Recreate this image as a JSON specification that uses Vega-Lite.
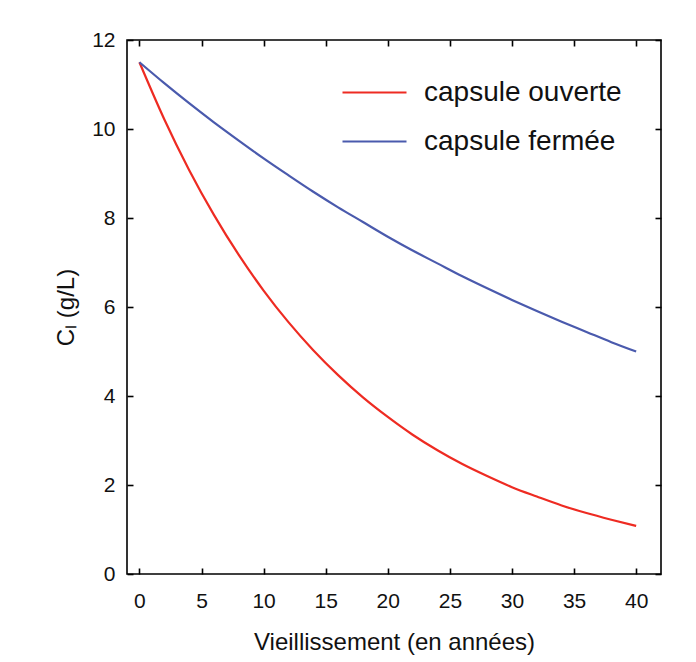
{
  "$schema": "https://vega.github.io/schema/vega-lite/v6.json",
  "width": 534,
  "height": 534,
  "autosize": {"type": "none"},
  "padding": {"left": 127, "top": 40, "right": 35, "bottom": 88},
  "background": "#ffffff",
  "config": {
    "font": "Liberation Sans",
    "view": {"stroke": "#000000", "strokeWidth": 1.6},
    "axis": {"domain": false, "grid": false, "tickColor": "#000000", "tickWidth": 1.6, "tickSize": -6, "labelColor": "#111111", "titleColor": "#111111", "labelFont": "Liberation Sans", "titleFont": "Liberation Sans", "titleFontWeight": "normal"}
  },
  "data": {"values": [
    {"t": 0, "c": 11.5, "s": "capsule ouverte"},
    {"t": 2, "c": 10.22, "s": "capsule ouverte"},
    {"t": 4, "c": 9.08, "s": "capsule ouverte"},
    {"t": 6, "c": 8.07, "s": "capsule ouverte"},
    {"t": 8, "c": 7.17, "s": "capsule ouverte"},
    {"t": 10, "c": 6.37, "s": "capsule ouverte"},
    {"t": 12, "c": 5.66, "s": "capsule ouverte"},
    {"t": 14, "c": 5.03, "s": "capsule ouverte"},
    {"t": 16, "c": 4.47, "s": "capsule ouverte"},
    {"t": 18, "c": 3.97, "s": "capsule ouverte"},
    {"t": 20, "c": 3.53, "s": "capsule ouverte"},
    {"t": 22, "c": 3.13, "s": "capsule ouverte"},
    {"t": 24, "c": 2.78, "s": "capsule ouverte"},
    {"t": 26, "c": 2.47, "s": "capsule ouverte"},
    {"t": 28, "c": 2.2, "s": "capsule ouverte"},
    {"t": 30, "c": 1.95, "s": "capsule ouverte"},
    {"t": 32, "c": 1.74, "s": "capsule ouverte"},
    {"t": 34, "c": 1.54, "s": "capsule ouverte"},
    {"t": 36, "c": 1.37, "s": "capsule ouverte"},
    {"t": 38, "c": 1.22, "s": "capsule ouverte"},
    {"t": 40, "c": 1.08, "s": "capsule ouverte"},
    {"t": 0, "c": 11.5, "s": "capsule fermée"},
    {"t": 2, "c": 11.03, "s": "capsule fermée"},
    {"t": 4, "c": 10.58, "s": "capsule fermée"},
    {"t": 6, "c": 10.15, "s": "capsule fermée"},
    {"t": 8, "c": 9.74, "s": "capsule fermée"},
    {"t": 10, "c": 9.34, "s": "capsule fermée"},
    {"t": 12, "c": 8.96, "s": "capsule fermée"},
    {"t": 14, "c": 8.59, "s": "capsule fermée"},
    {"t": 16, "c": 8.24, "s": "capsule fermée"},
    {"t": 18, "c": 7.91, "s": "capsule fermée"},
    {"t": 20, "c": 7.58, "s": "capsule fermée"},
    {"t": 22, "c": 7.27, "s": "capsule fermée"},
    {"t": 24, "c": 6.98, "s": "capsule fermée"},
    {"t": 26, "c": 6.69, "s": "capsule fermée"},
    {"t": 28, "c": 6.42, "s": "capsule fermée"},
    {"t": 30, "c": 6.16, "s": "capsule fermée"},
    {"t": 32, "c": 5.91, "s": "capsule fermée"},
    {"t": 34, "c": 5.67, "s": "capsule fermée"},
    {"t": 36, "c": 5.44, "s": "capsule fermée"},
    {"t": 38, "c": 5.21, "s": "capsule fermée"},
    {"t": 40, "c": 5.0, "s": "capsule fermée"}
  ]},
  "layer": [
    {
      "mark": {"type": "line", "strokeWidth": 2.2, "interpolate": "monotone"},
      "encoding": {
        "x": {"field": "t", "type": "quantitative", "scale": {"domain": [-1, 42], "nice": false},
              "axis": {"orient": "bottom", "values": [0, 5, 10, 15, 20, 25, 30, 35, 40], "labelFontSize": 21, "labelPadding": 22, "title": "Vieillissement (en années)", "titleFontSize": 24, "titlePadding": 19}},
        "y": {"field": "c", "type": "quantitative", "scale": {"domain": [0, 12], "nice": false},
              "axis": {"orient": "left", "values": [0, 2, 4, 6, 8, 10, 12], "labelFontSize": 21, "labelPadding": 18, "title": "Cₗ (g/L)", "titleFontSize": 24, "titlePadding": 13}},
        "color": {"field": "s", "type": "nominal",
                  "scale": {"domain": ["capsule ouverte", "capsule fermée"], "range": ["#ee2b22", "#4a5aad"]},
                  "legend": {"orient": "none", "legendX": 214, "legendY": 19, "title": null, "symbolType": "stroke", "symbolSize": 4096, "symbolStrokeWidth": 2.2, "labelFontSize": 28, "labelLimit": 400, "labelColor": "#111111", "labelOffset": 16, "rowPadding": 1, "padding": 0}}
      }
    },
    {
      "mark": {"type": "line", "opacity": 0},
      "encoding": {
        "x": {"field": "t", "type": "quantitative", "axis": {"orient": "top", "values": [0, 5, 10, 15, 20, 25, 30, 35, 40], "labels": false, "title": null}},
        "y": {"field": "c", "type": "quantitative", "axis": {"orient": "right", "values": [0, 2, 4, 6, 8, 10, 12], "labels": false, "title": null}},
        "detail": {"field": "s"}
      }
    }
  ],
  "resolve": {"axis": {"x": "independent", "y": "independent"}}
}
